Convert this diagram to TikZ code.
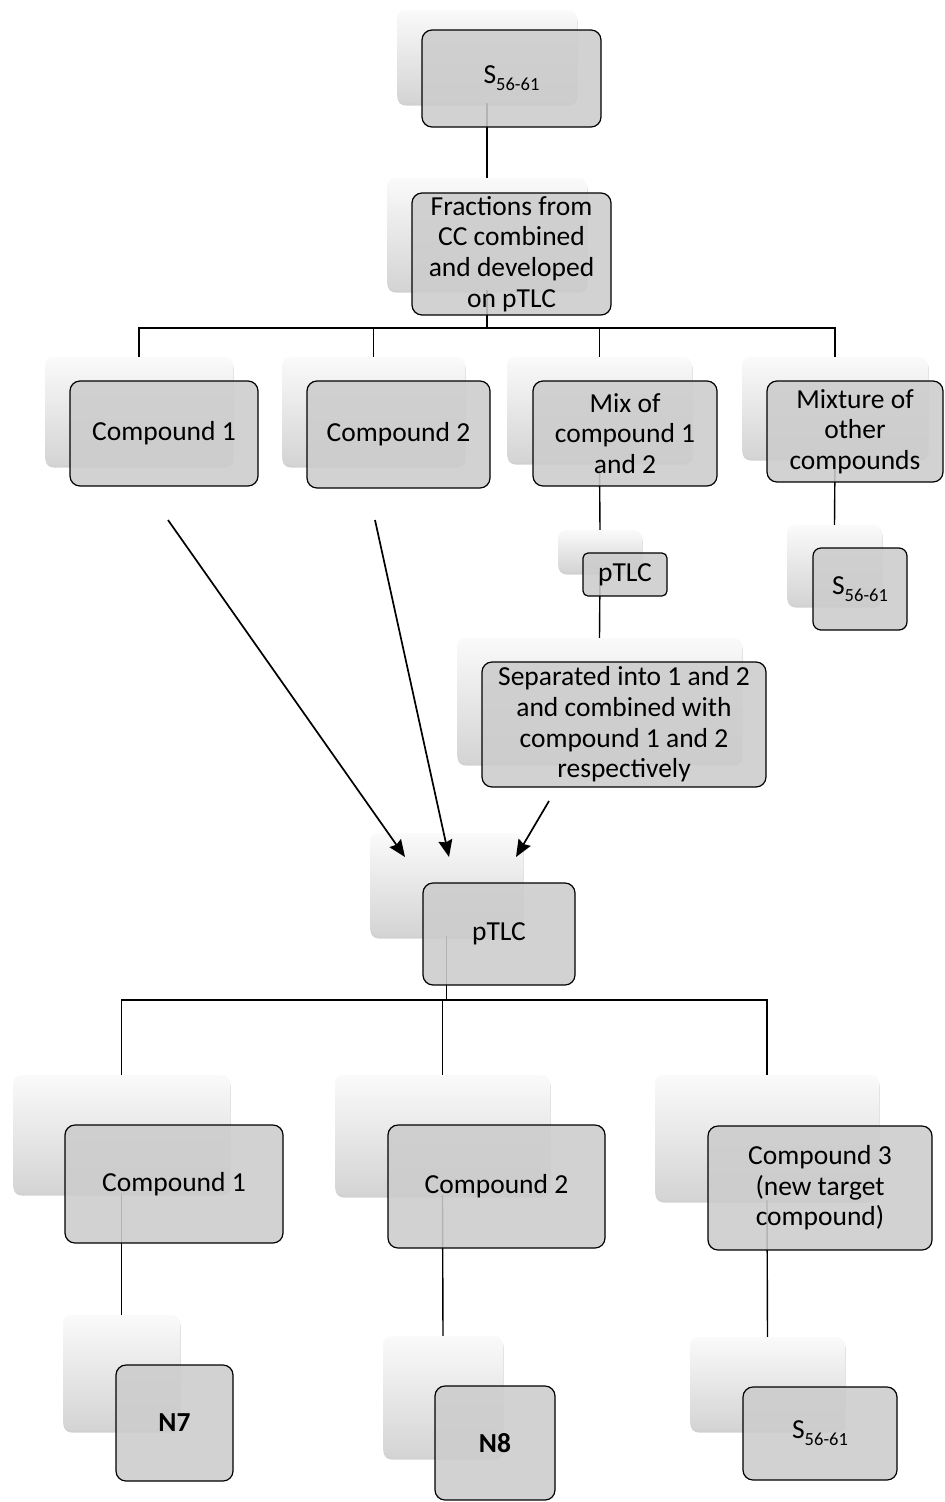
\documentclass[tikz,border=0pt]{standalone}
\usepackage{fontspec}
\setmainfont{Carlito}
\usetikzlibrary{fit,shadows,arrows.meta}
\pgfdeclarelayer{lines}
\pgfdeclarelayer{back}
\pgfsetlayers{lines,back,main}
\definecolor{boxgray}{RGB}{204,204,204}
\definecolor{backtop}{RGB}{250,250,250}
\definecolor{backbot}{RGB}{212,212,212}
\newcommand\Ssub{S\raisebox{-0.26em}{\fontsize{18.5}{20}\selectfont 56-61}}
\tikzset{
  backbox/.style={draw=none, inner sep=0pt, rounded corners=8pt,
    top color=backtop, bottom color=backbot,
    drop shadow={shadow xshift=0.5pt, shadow yshift=-2.5pt, opacity=0.18, fill=black}},
  frontbox/.style={draw=black, line width=1.2pt, inner sep=0pt, rounded corners=10pt,
    fill=boxgray, fill opacity=0.88},
  txt/.style={font=\fontsize{27.5}{30.6}\selectfont, align=center, inner sep=0pt, text=black},
  conn/.style={draw=black, line width=1.4pt},
  arr/.style={draw=black, line width=1.7pt, -{Stealth[length=17pt,width=14pt,inset=2pt]}}
}
\newcommand\pair[7][]{%
  \begin{pgfonlayer}{back}
    \node[backbox, fit={#3 #4}] (#2-b) {};
  \end{pgfonlayer}
  \node[frontbox, #1, fit={#5 #6}] (#2) {};
  \node[txt] (#2-t) at (#2.center) {#7};
}
\begin{document}
\begin{tikzpicture}[x=1pt, y=-1pt]
\useasboundingbox (0,0) rectangle (945,1502);

\pair{top}{(397,10)}{(577,103)}{(422,30)}{(601,127)}{\Ssub}
\pair{frac}{(387,178)}{(587,290)}{(412,193)}{(611,315)}{Fractions from\\CC combined\\and developed\\on pTLC}
\pair{c1}{(45,357)}{(233,465)}{(70,381)}{(258,486)}{Compound 1}
\pair{c2}{(282,357)}{(465,465)}{(307,381)}{(490,488)}{Compound 2}
\pair{mix}{(507,357)}{(692,462)}{(533,381)}{(717,486)}{Mix of\\compound 1\\and 2}
\pair{mixt}{(742,357)}{(928,458)}{(767,381)}{(943,482)}{Mixture of\\other\\compounds}
\pair[rounded corners=5pt]{ptlcs}{(558,530)}{(642,572)}{(583,553)}{(667,596)}{pTLC}
\pair[rounded corners=8pt]{ssm}{(787,525)}{(882,605)}{(813,548)}{(907,630)}{\Ssub}
\pair{sep}{(457,638)}{(742,763)}{(482,662)}{(766,787)}{Separated into 1 and 2\\and combined with\\compound 1 and 2\\respectively}
\pair{ptlc}{(370,833)}{(523,936)}{(423,883)}{(575,985)}{pTLC}
\pair{d1}{(13,1075)}{(230,1193)}{(65,1125)}{(283,1243)}{Compound 1}
\pair{d2}{(335,1075)}{(550,1195)}{(388,1125)}{(605,1248)}{Compound 2}
\pair{d3}{(655,1075)}{(879,1200)}{(708,1126)}{(932,1250)}{Compound 3\\(new target\\compound)}
\pair{n7}{(63,1315)}{(180,1430)}{(116,1365)}{(233,1481)}{\textbf{N7}}
\pair{n8}{(383,1336)}{(503,1457)}{(435,1386)}{(555,1500)}{\textbf{N8}}
\pair{s3}{(690,1337)}{(845,1430)}{(743,1387)}{(897,1480)}{\Ssub}

\coordinate (bar1) at (487,328);
\coordinate (bar2) at (446.5,1000);
\begin{pgfonlayer}{lines}
  \draw[conn] (top-b.south) -- (frac-b.north);
  \draw[conn] (frac-b.south) -- (bar1);
  \foreach \n in {c1,c2,mix,mixt} \draw[conn] (bar1) -| (\n-b.north);
  \draw[conn] (mix-b.south) -- (ptlcs-b.north);
  \draw[conn] (ptlcs-b.south) -- (sep-b.north);
  \draw[conn] (mixt-b.south) -- (ssm-b.north);
  \draw[conn] (ptlc-b.south) -- (bar2);
  \foreach \n in {d1,d2,d3} \draw[conn] (bar2) -| (\n-b.north);
  \draw[conn] (d1-b.south) -- (n7-b.north);
  \draw[conn] (d2-b.south) -- (n8-b.north);
  \draw[conn] (d3-b.south) -- (s3-b.north);
\end{pgfonlayer}

\coordinate (a1s) at (168,520);
\coordinate (a1e) at (405,857);
\coordinate (a2s) at (375,520);
\coordinate (a2e) at (449,857);
\coordinate (a3s) at (549,801);
\coordinate (a3e) at (516,857);
\draw[arr] (a1s) -- (a1e);
\draw[arr] (a2s) -- (a2e);
\draw[arr] (a3s) -- (a3e);
\end{tikzpicture}
\end{document}
